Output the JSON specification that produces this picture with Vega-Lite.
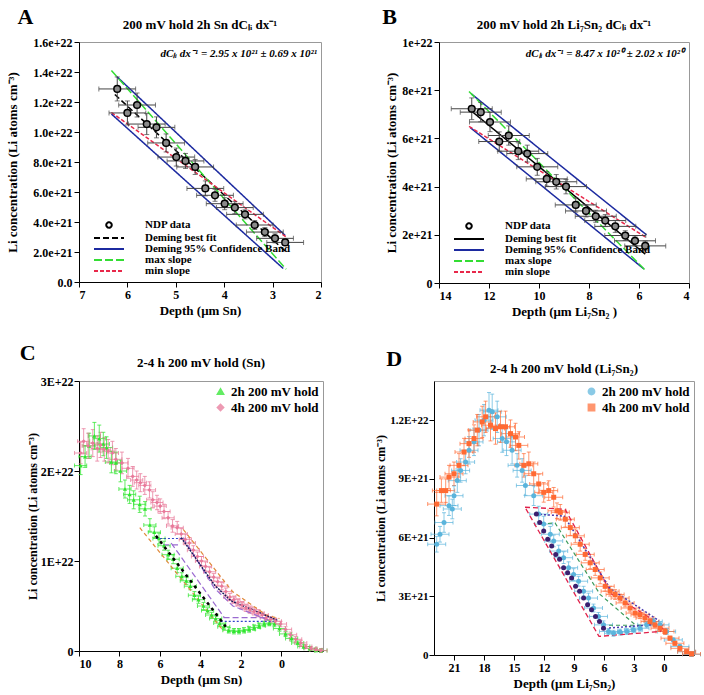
{
"$schema":"https://vega.github.io/schema/vega-lite/v6.json",
"datasets":{
"a_pts":[{"x":6.21,"y":1.287e22,"xe":0.38,"ye":8e20},{"x":6.0,"y":1.127e22,"xe":0.38,"ye":8e20},{"x":5.8,"y":1.18e22,"xe":0.38,"ye":8e20},{"x":5.6,"y":1.053e22,"xe":0.38,"ye":7e20},{"x":5.4,"y":1.031e22,"xe":0.38,"ye":7e20},{"x":5.2,"y":9.27e21,"xe":0.38,"ye":6e20},{"x":4.99,"y":8.33e21,"xe":0.38,"ye":6e20},{"x":4.8,"y":8.07e21,"xe":0.38,"ye":5e20},{"x":4.6,"y":7.67e21,"xe":0.38,"ye":5e20},{"x":4.39,"y":6.24e21,"xe":0.38,"ye":5e20},{"x":4.19,"y":5.78e21,"xe":0.38,"ye":4e20},{"x":3.99,"y":5.22e21,"xe":0.38,"ye":4e20},{"x":3.78,"y":4.96e21,"xe":0.38,"ye":4e20},{"x":3.57,"y":4.51e21,"xe":0.38,"ye":3e20},{"x":3.37,"y":3.8e21,"xe":0.38,"ye":3e20},{"x":3.16,"y":3.33e21,"xe":0.38,"ye":3e20},{"x":2.95,"y":2.91e21,"xe":0.38,"ye":3e20},{"x":2.74,"y":2.64e21,"xe":0.38,"ye":2e20}],
"a_lines":[{"s":"Deming best fit","g":"f","x":6.26,"y":1.25e22},{"s":"Deming best fit","g":"f","x":2.72,"y":2.0e21},{"s":"Deming 95% Confidence Band","g":"u","x":6.22,"y":1.37e22},{"s":"Deming 95% Confidence Band","g":"u","x":2.74,"y":3.1e21},{"s":"Deming 95% Confidence Band","g":"l","x":6.33,"y":1.12e22},{"s":"Deming 95% Confidence Band","g":"l","x":2.78,"y":9e20},{"s":"max slope","g":"mx","x":6.33,"y":1.41e22},{"s":"max slope","g":"mx","x":2.72,"y":8.5e20},{"s":"min slope","g":"mn","x":6.33,"y":1.13e22},{"s":"min slope","g":"mn","x":2.72,"y":3.0e21}],
"a_note":[{"x":2.08,"y":1.52e22,"t":"dCₗᵢ dx⁻¹ = 2.95 x 10²¹ ± 0.69 x 10²¹"}],
"b_pts":[{"x":12.69,"y":7.23e21,"xe":0.82,"ye":4.5e20},{"x":12.33,"y":7.09e21,"xe":0.82,"ye":4e20},{"x":11.96,"y":6.68e21,"xe":0.82,"ye":4e20},{"x":11.59,"y":5.87e21,"xe":0.82,"ye":4e20},{"x":11.21,"y":6.12e21,"xe":0.82,"ye":4e20},{"x":10.83,"y":5.47e21,"xe":0.82,"ye":3.5e20},{"x":10.47,"y":5.37e21,"xe":0.82,"ye":3.5e20},{"x":10.07,"y":4.82e21,"xe":0.82,"ye":3.5e20},{"x":9.69,"y":4.32e21,"xe":0.82,"ye":3e20},{"x":9.31,"y":4.2e21,"xe":0.82,"ye":3e20},{"x":8.92,"y":4.0e21,"xe":0.82,"ye":3e20},{"x":8.53,"y":3.24e21,"xe":0.82,"ye":3e20},{"x":8.12,"y":2.99e21,"xe":0.82,"ye":2.5e20},{"x":7.73,"y":2.77e21,"xe":0.82,"ye":2.5e20},{"x":7.35,"y":2.59e21,"xe":0.82,"ye":2.5e20},{"x":6.95,"y":2.35e21,"xe":0.82,"ye":2.5e20},{"x":6.55,"y":1.97e21,"xe":0.82,"ye":2e20},{"x":6.16,"y":1.75e21,"xe":0.82,"ye":2e20},{"x":5.75,"y":1.54e21,"xe":0.82,"ye":2e20}],
"b_lines":[{"s":"Deming best fit","g":"f","x":12.73,"y":7.16e21},{"s":"Deming best fit","g":"f","x":5.75,"y":1.2e21},{"s":"Deming 95% Confidence Band","g":"u","x":12.71,"y":7.85e21},{"s":"Deming 95% Confidence Band","g":"u","x":5.7,"y":2.0e21},{"s":"Deming 95% Confidence Band","g":"l","x":12.75,"y":6.45e21},{"s":"Deming 95% Confidence Band","g":"l","x":5.8,"y":5.8e20},{"s":"max slope","g":"mx","x":12.8,"y":7.95e21},{"s":"max slope","g":"mx","x":5.73,"y":5.1e20},{"s":"min slope","g":"mn","x":12.8,"y":6.5e21},{"s":"min slope","g":"mn","x":5.73,"y":1.9e21}],
"b_note":[{"x":4.2,"y":9.5e21,"t":"dCₗᵢ dx⁻¹ = 8.47 x 10²⁰ ± 2.02 x 10²⁰"}],
"c_pts":[
{"s":"2h 200 mV hold","x":9.92,"y":2.06e22,"xe":0.3,"ye":1.0e21},{"s":"2h 200 mV hold","x":9.7,"y":2.16e22,"xe":0.3,"ye":1.2e21},{"s":"2h 200 mV hold","x":9.5,"y":2.28e22,"xe":0.3,"ye":1.4e21},{"s":"2h 200 mV hold","x":9.24,"y":2.39e22,"xe":0.3,"ye":1.5e21},{"s":"2h 200 mV hold","x":9.0,"y":2.36e22,"xe":0.3,"ye":1.5e21},{"s":"2h 200 mV hold","x":8.8,"y":2.3e22,"xe":0.3,"ye":1.3e21},{"s":"2h 200 mV hold","x":8.64,"y":2.26e22,"xe":0.3,"ye":1.2e21},{"s":"2h 200 mV hold","x":8.4,"y":2.1e22,"xe":0.3,"ye":1.2e21},{"s":"2h 200 mV hold","x":8.18,"y":2.09e22,"xe":0.3,"ye":1.2e21},{"s":"2h 200 mV hold","x":7.95,"y":2.0e22,"xe":0.3,"ye":1.2e21},{"s":"2h 200 mV hold","x":7.73,"y":1.8e22,"xe":0.3,"ye":1.0e21},{"s":"2h 200 mV hold","x":7.5,"y":1.74e22,"xe":0.3,"ye":1.0e21},{"s":"2h 200 mV hold","x":7.3,"y":1.68e22,"xe":0.3,"ye":1.0e21},{"s":"2h 200 mV hold","x":7.0,"y":1.63e22,"xe":0.3,"ye":9e20},{"s":"2h 200 mV hold","x":6.74,"y":1.58e22,"xe":0.3,"ye":8e20},{"s":"2h 200 mV hold","x":6.5,"y":1.4e22,"xe":0.3,"ye":7e20},{"s":"2h 200 mV hold","x":6.28,"y":1.32e22,"xe":0.3,"ye":6e20},{"s":"2h 200 mV hold","x":6.05,"y":1.25e22,"xe":0.3,"ye":6e20},{"s":"2h 200 mV hold","x":5.8,"y":1.17e22,"xe":0.3,"ye":5e20},{"s":"2h 200 mV hold","x":5.6,"y":1.07e22,"xe":0.3,"ye":5e20},{"s":"2h 200 mV hold","x":5.35,"y":1.02e22,"xe":0.3,"ye":5e20},{"s":"2h 200 mV hold","x":5.15,"y":9.2e21,"xe":0.3,"ye":5e20},{"s":"2h 200 mV hold","x":4.92,"y":8.3e21,"xe":0.3,"ye":4e20},{"s":"2h 200 mV hold","x":4.7,"y":7.8e21,"xe":0.3,"ye":4e20},{"s":"2h 200 mV hold","x":4.5,"y":7.2e21,"xe":0.3,"ye":4e20},{"s":"2h 200 mV hold","x":4.3,"y":6.2e21,"xe":0.3,"ye":4e20},{"s":"2h 200 mV hold","x":4.1,"y":5.7e21,"xe":0.3,"ye":4e20},{"s":"2h 200 mV hold","x":3.85,"y":5.0e21,"xe":0.3,"ye":4e20},{"s":"2h 200 mV hold","x":3.65,"y":4.5e21,"xe":0.3,"ye":3e20},{"s":"2h 200 mV hold","x":3.45,"y":4.0e21,"xe":0.3,"ye":3e20},{"s":"2h 200 mV hold","x":3.25,"y":3.6e21,"xe":0.3,"ye":3e20},{"s":"2h 200 mV hold","x":3.05,"y":3.1e21,"xe":0.3,"ye":3e20},{"s":"2h 200 mV hold","x":2.85,"y":2.7e21,"xe":0.3,"ye":3e20},{"s":"2h 200 mV hold","x":2.6,"y":2.3e21,"xe":0.3,"ye":3e20},{"s":"2h 200 mV hold","x":2.35,"y":2.2e21,"xe":0.3,"ye":3e20},{"s":"2h 200 mV hold","x":2.1,"y":2.2e21,"xe":0.3,"ye":3e20},{"s":"2h 200 mV hold","x":1.85,"y":2.3e21,"xe":0.3,"ye":3e20},{"s":"2h 200 mV hold","x":1.6,"y":2.4e21,"xe":0.3,"ye":3e20},{"s":"2h 200 mV hold","x":1.35,"y":2.6e21,"xe":0.3,"ye":3e20},{"s":"2h 200 mV hold","x":1.1,"y":2.8e21,"xe":0.3,"ye":3e20},{"s":"2h 200 mV hold","x":0.85,"y":3.0e21,"xe":0.3,"ye":3e20},{"s":"2h 200 mV hold","x":0.6,"y":3.1e21,"xe":0.3,"ye":3e20},{"s":"2h 200 mV hold","x":0.35,"y":3.0e21,"xe":0.3,"ye":3e20},{"s":"2h 200 mV hold","x":0.1,"y":2.5e21,"xe":0.3,"ye":3e20},{"s":"2h 200 mV hold","x":-0.2,"y":1.9e21,"xe":0.3,"ye":3e20},{"s":"2h 200 mV hold","x":-0.5,"y":1.4e21,"xe":0.3,"ye":3e20},{"s":"2h 200 mV hold","x":-0.8,"y":9e20,"xe":0.3,"ye":2e20},{"s":"2h 200 mV hold","x":-1.1,"y":5e20,"xe":0.3,"ye":2e20},{"s":"2h 200 mV hold","x":-1.4,"y":3e20,"xe":0.3,"ye":2e20},{"s":"2h 200 mV hold","x":-1.7,"y":1e20,"xe":0.3,"ye":2e20},{"s":"2h 200 mV hold","x":-1.95,"y":5e19,"xe":0.3,"ye":2e20},
{"s":"4h 200 mV hold","x":9.92,"y":2.2e22,"xe":0.3,"ye":1.2e21},{"s":"4h 200 mV hold","x":9.77,"y":2.33e22,"xe":0.3,"ye":1.4e21},{"s":"4h 200 mV hold","x":9.55,"y":2.28e22,"xe":0.3,"ye":1.4e21},{"s":"4h 200 mV hold","x":9.32,"y":2.31e22,"xe":0.3,"ye":1.5e21},{"s":"4h 200 mV hold","x":9.1,"y":2.25e22,"xe":0.3,"ye":1.4e21},{"s":"4h 200 mV hold","x":8.94,"y":2.29e22,"xe":0.3,"ye":1.4e21},{"s":"4h 200 mV hold","x":8.75,"y":2.24e22,"xe":0.3,"ye":1.3e21},{"s":"4h 200 mV hold","x":8.56,"y":2.22e22,"xe":0.3,"ye":1.3e21},{"s":"4h 200 mV hold","x":8.35,"y":2.2e22,"xe":0.3,"ye":1.3e21},{"s":"4h 200 mV hold","x":8.18,"y":2.13e22,"xe":0.3,"ye":1.2e21},{"s":"4h 200 mV hold","x":7.88,"y":2.09e22,"xe":0.3,"ye":1.2e21},{"s":"4h 200 mV hold","x":7.58,"y":2.03e22,"xe":0.3,"ye":1.1e21},{"s":"4h 200 mV hold","x":7.35,"y":1.94e22,"xe":0.3,"ye":1.1e21},{"s":"4h 200 mV hold","x":7.15,"y":1.9e22,"xe":0.3,"ye":1.0e21},{"s":"4h 200 mV hold","x":6.97,"y":1.87e22,"xe":0.3,"ye":1.0e21},{"s":"4h 200 mV hold","x":6.75,"y":1.84e22,"xe":0.3,"ye":1.0e21},{"s":"4h 200 mV hold","x":6.52,"y":1.79e22,"xe":0.3,"ye":9e20},{"s":"4h 200 mV hold","x":6.36,"y":1.68e22,"xe":0.3,"ye":9e20},{"s":"4h 200 mV hold","x":6.15,"y":1.65e22,"xe":0.3,"ye":8e20},{"s":"4h 200 mV hold","x":5.99,"y":1.61e22,"xe":0.3,"ye":8e20},{"s":"4h 200 mV hold","x":5.8,"y":1.55e22,"xe":0.3,"ye":8e20},{"s":"4h 200 mV hold","x":5.6,"y":1.48e22,"xe":0.3,"ye":7e20},{"s":"4h 200 mV hold","x":5.38,"y":1.39e22,"xe":0.3,"ye":7e20},{"s":"4h 200 mV hold","x":5.15,"y":1.37e22,"xe":0.3,"ye":7e20},{"s":"4h 200 mV hold","x":4.95,"y":1.3e22,"xe":0.3,"ye":6e20},{"s":"4h 200 mV hold","x":4.75,"y":1.24e22,"xe":0.3,"ye":6e20},{"s":"4h 200 mV hold","x":4.55,"y":1.2e22,"xe":0.3,"ye":6e20},{"s":"4h 200 mV hold","x":4.35,"y":1.12e22,"xe":0.3,"ye":5e20},{"s":"4h 200 mV hold","x":4.15,"y":1.05e22,"xe":0.3,"ye":5e20},{"s":"4h 200 mV hold","x":3.95,"y":1.0e22,"xe":0.3,"ye":5e20},{"s":"4h 200 mV hold","x":3.75,"y":9.4e21,"xe":0.3,"ye":5e20},{"s":"4h 200 mV hold","x":3.55,"y":8.8e21,"xe":0.3,"ye":5e20},{"s":"4h 200 mV hold","x":3.35,"y":8.2e21,"xe":0.3,"ye":4e20},{"s":"4h 200 mV hold","x":3.15,"y":7.7e21,"xe":0.3,"ye":4e20},{"s":"4h 200 mV hold","x":2.95,"y":7.2e21,"xe":0.3,"ye":4e20},{"s":"4h 200 mV hold","x":2.75,"y":6.6e21,"xe":0.3,"ye":4e20},{"s":"4h 200 mV hold","x":2.55,"y":6.0e21,"xe":0.3,"ye":4e20},{"s":"4h 200 mV hold","x":2.35,"y":5.7e21,"xe":0.3,"ye":4e20},{"s":"4h 200 mV hold","x":2.15,"y":5.4e21,"xe":0.3,"ye":4e20},{"s":"4h 200 mV hold","x":1.95,"y":5.1e21,"xe":0.3,"ye":4e20},{"s":"4h 200 mV hold","x":1.75,"y":4.8e21,"xe":0.3,"ye":4e20},{"s":"4h 200 mV hold","x":1.55,"y":4.6e21,"xe":0.3,"ye":4e20},{"s":"4h 200 mV hold","x":1.35,"y":4.4e21,"xe":0.3,"ye":4e20},{"s":"4h 200 mV hold","x":1.15,"y":4.2e21,"xe":0.3,"ye":4e20},{"s":"4h 200 mV hold","x":0.95,"y":4.0e21,"xe":0.3,"ye":3e20},{"s":"4h 200 mV hold","x":0.75,"y":3.7e21,"xe":0.3,"ye":3e20},{"s":"4h 200 mV hold","x":0.55,"y":3.5e21,"xe":0.3,"ye":3e20},{"s":"4h 200 mV hold","x":0.3,"y":3.3e21,"xe":0.3,"ye":3e20},{"s":"4h 200 mV hold","x":0.05,"y":3.0e21,"xe":0.3,"ye":3e20},{"s":"4h 200 mV hold","x":-0.2,"y":2.4e21,"xe":0.3,"ye":3e20},{"s":"4h 200 mV hold","x":-0.45,"y":1.8e21,"xe":0.3,"ye":3e20},{"s":"4h 200 mV hold","x":-0.7,"y":1.3e21,"xe":0.3,"ye":3e20},{"s":"4h 200 mV hold","x":-0.95,"y":9e20,"xe":0.3,"ye":3e20},{"s":"4h 200 mV hold","x":-1.2,"y":5e20,"xe":0.3,"ye":2e20},{"s":"4h 200 mV hold","x":-1.45,"y":3e20,"xe":0.3,"ye":2e20},{"s":"4h 200 mV hold","x":-1.7,"y":1.5e20,"xe":0.3,"ye":2e20},{"s":"4h 200 mV hold","x":-1.95,"y":5e19,"xe":0.3,"ye":2e20}],
"c_lines":[
{"st":"orange","g":"o1","i":0,"x":7.0,"y":1.37e22},{"st":"orange","g":"o1","i":1,"x":2.85,"y":2.2e21},
{"st":"orange","g":"o2","i":0,"x":4.85,"y":1.35e22},{"st":"orange","g":"o2","i":1,"x":2.42,"y":6.6e21},{"st":"orange","g":"o2","i":2,"x":0.76,"y":4.0e21},{"st":"orange","g":"o2","i":3,"x":0.1,"y":3.6e21},
{"st":"purple","g":"p1","i":0,"x":5.45,"y":1.2e22},{"st":"purple","g":"p1","i":1,"x":2.82,"y":3.7e21},
{"st":"purple","g":"p2","i":0,"x":4.86,"y":1.26e22},{"st":"purple","g":"p2","i":1,"x":3.32,"y":7.0e21},{"st":"purple","g":"p2","i":2,"x":2.4,"y":5.0e21},{"st":"purple","g":"p2","i":3,"x":0.6,"y":3.4e21},
{"st":"purple","g":"p3","i":0,"x":2.86,"y":3.7e21},{"st":"purple","g":"p3","i":1,"x":0.68,"y":3.7e21},
{"st":"purple","g":"p4","i":0,"x":5.85,"y":1.18e22},{"st":"purple","g":"p4","i":1,"x":5.0,"y":1.18e22},
{"st":"blue","g":"h1","i":0,"x":6.2,"y":1.25e22},{"st":"blue","g":"h1","i":1,"x":4.95,"y":1.25e22},
{"st":"blue","g":"h2","i":0,"x":3.0,"y":3.3e21},{"st":"blue","g":"h2","i":1,"x":0.3,"y":3.3e21},
{"st":"navy","g":"n1","i":0,"x":4.95,"y":1.26e22},{"st":"navy","g":"n1","i":1,"x":3.3,"y":7.3e21},{"st":"navy","g":"n1","i":2,"x":2.5,"y":5.6e21},{"st":"navy","g":"n1","i":3,"x":0.2,"y":3.4e21},
{"st":"blk","g":"b1","i":0,"x":6.2,"y":1.28e22},{"st":"blk","g":"b1","i":1,"x":2.75,"y":2.7e21}],
"d_pts":[
{"s":"2h 200 mV hold","x":22.73,"y":5.66e21,"xe":0.9,"ye":4e20},{"s":"2h 200 mV hold","x":22.4,"y":6.17e21,"xe":0.9,"ye":4e20},{"s":"2h 200 mV hold","x":22.0,"y":6.77e21,"xe":0.9,"ye":5e20},{"s":"2h 200 mV hold","x":21.5,"y":7.63e21,"xe":0.9,"ye":5e20},{"s":"2h 200 mV hold","x":21.17,"y":7.46e21,"xe":0.9,"ye":5e20},{"s":"2h 200 mV hold","x":21.0,"y":8.14e21,"xe":0.9,"ye":5e20},{"s":"2h 200 mV hold","x":20.67,"y":8.91e21,"xe":0.9,"ye":6e20},{"s":"2h 200 mV hold","x":20.34,"y":9.43e21,"xe":0.9,"ye":6e20},{"s":"2h 200 mV hold","x":19.84,"y":9.86e21,"xe":0.9,"ye":6e20},{"s":"2h 200 mV hold","x":19.5,"y":1.046e22,"xe":0.9,"ye":7e20},{"s":"2h 200 mV hold","x":19.0,"y":1.089e22,"xe":0.9,"ye":7e20},{"s":"2h 200 mV hold","x":18.5,"y":1.149e22,"xe":0.9,"ye":8e20},{"s":"2h 200 mV hold","x":18.0,"y":1.2e22,"xe":0.9,"ye":8e20},{"s":"2h 200 mV hold","x":17.5,"y":1.251e22,"xe":0.9,"ye":9e20},{"s":"2h 200 mV hold","x":17.18,"y":1.243e22,"xe":0.9,"ye":9e20},{"s":"2h 200 mV hold","x":16.68,"y":1.217e22,"xe":0.9,"ye":8e20},{"s":"2h 200 mV hold","x":16.18,"y":1.106e22,"xe":0.9,"ye":7e20},{"s":"2h 200 mV hold","x":15.75,"y":1.089e22,"xe":0.9,"ye":7e20},{"s":"2h 200 mV hold","x":15.19,"y":1.046e22,"xe":0.9,"ye":7e20},{"s":"2h 200 mV hold","x":14.69,"y":9.69e21,"xe":0.9,"ye":6e20},{"s":"2h 200 mV hold","x":14.19,"y":9.43e21,"xe":0.9,"ye":6e20},{"s":"2h 200 mV hold","x":13.86,"y":8.66e21,"xe":0.9,"ye":5e20},{"s":"2h 200 mV hold","x":13.03,"y":8.14e21,"xe":0.9,"ye":5e20},{"s":"2h 200 mV hold","x":12.53,"y":7.2e21,"xe":0.9,"ye":4e20},{"s":"2h 200 mV hold","x":12.03,"y":6.69e21,"xe":0.9,"ye":4e20},{"s":"2h 200 mV hold","x":11.37,"y":6.17e21,"xe":0.9,"ye":4e20},{"s":"2h 200 mV hold","x":11.03,"y":5.83e21,"xe":0.9,"ye":3e20},{"s":"2h 200 mV hold","x":10.53,"y":5.31e21,"xe":0.9,"ye":3e20},{"s":"2h 200 mV hold","x":10.04,"y":4.97e21,"xe":0.9,"ye":3e20},{"s":"2h 200 mV hold","x":9.54,"y":4.46e21,"xe":0.9,"ye":3e20},{"s":"2h 200 mV hold","x":9.04,"y":4.11e21,"xe":0.9,"ye":3e20},{"s":"2h 200 mV hold","x":8.54,"y":3.77e21,"xe":0.9,"ye":2.5e20},{"s":"2h 200 mV hold","x":8.04,"y":3.26e21,"xe":0.9,"ye":2.5e20},{"s":"2h 200 mV hold","x":7.55,"y":2.91e21,"xe":0.9,"ye":2.5e20},{"s":"2h 200 mV hold","x":7.05,"y":2.4e21,"xe":0.9,"ye":2e20},{"s":"2h 200 mV hold","x":6.55,"y":1.97e21,"xe":0.9,"ye":2e20},{"s":"2h 200 mV hold","x":6.05,"y":1.54e21,"xe":0.9,"ye":2e20},{"s":"2h 200 mV hold","x":5.55,"y":1.2e21,"xe":0.9,"ye":1.5e20},{"s":"2h 200 mV hold","x":5.05,"y":1.11e21,"xe":0.9,"ye":1.5e20},{"s":"2h 200 mV hold","x":4.39,"y":1.17e21,"xe":0.9,"ye":1.5e20},{"s":"2h 200 mV hold","x":3.72,"y":1.2e21,"xe":0.9,"ye":1.5e20},{"s":"2h 200 mV hold","x":3.06,"y":1.29e21,"xe":0.9,"ye":1.5e20},{"s":"2h 200 mV hold","x":2.4,"y":1.37e21,"xe":0.9,"ye":1.5e20},{"s":"2h 200 mV hold","x":1.73,"y":1.54e21,"xe":0.9,"ye":1.5e20},{"s":"2h 200 mV hold","x":1.07,"y":1.71e21,"xe":0.9,"ye":1.5e20},{"s":"2h 200 mV hold","x":0.4,"y":1.54e21,"xe":0.9,"ye":1.5e20},{"s":"2h 200 mV hold","x":-0.26,"y":1.2e21,"xe":0.9,"ye":1.5e20},{"s":"2h 200 mV hold","x":-0.93,"y":7.7e20,"xe":0.9,"ye":1e20},{"s":"2h 200 mV hold","x":-1.59,"y":4.3e20,"xe":0.9,"ye":1e20},{"s":"2h 200 mV hold","x":-2.26,"y":1.7e20,"xe":0.9,"ye":1e20},{"s":"2h 200 mV hold","x":-2.75,"y":3e19,"xe":0.9,"ye":1e20},
{"s":"4h 200 mV hold","x":22.73,"y":7.71e21,"xe":0.9,"ye":6e20},{"s":"4h 200 mV hold","x":22.26,"y":8.4e21,"xe":0.9,"ye":6e20},{"s":"4h 200 mV hold","x":21.83,"y":8.4e21,"xe":0.9,"ye":6e20},{"s":"4h 200 mV hold","x":21.5,"y":9.09e21,"xe":0.9,"ye":6e20},{"s":"4h 200 mV hold","x":21.0,"y":9.26e21,"xe":0.9,"ye":6e20},{"s":"4h 200 mV hold","x":20.5,"y":9.69e21,"xe":0.9,"ye":6e20},{"s":"4h 200 mV hold","x":20.0,"y":1.037e22,"xe":0.9,"ye":7e20},{"s":"4h 200 mV hold","x":19.5,"y":1.08e22,"xe":0.9,"ye":7e20},{"s":"4h 200 mV hold","x":19.0,"y":1.106e22,"xe":0.9,"ye":7e20},{"s":"4h 200 mV hold","x":18.67,"y":1.149e22,"xe":0.9,"ye":8e20},{"s":"4h 200 mV hold","x":18.18,"y":1.191e22,"xe":0.9,"ye":8e20},{"s":"4h 200 mV hold","x":17.84,"y":1.217e22,"xe":0.9,"ye":8e20},{"s":"4h 200 mV hold","x":17.35,"y":1.174e22,"xe":0.9,"ye":8e20},{"s":"4h 200 mV hold","x":16.85,"y":1.157e22,"xe":0.9,"ye":8e20},{"s":"4h 200 mV hold","x":16.35,"y":1.166e22,"xe":0.9,"ye":8e20},{"s":"4h 200 mV hold","x":15.85,"y":1.166e22,"xe":0.9,"ye":8e20},{"s":"4h 200 mV hold","x":15.35,"y":1.131e22,"xe":0.9,"ye":7e20},{"s":"4h 200 mV hold","x":14.85,"y":1.114e22,"xe":0.9,"ye":7e20},{"s":"4h 200 mV hold","x":14.52,"y":1.071e22,"xe":0.9,"ye":7e20},{"s":"4h 200 mV hold","x":14.02,"y":9.69e21,"xe":0.9,"ye":6e20},{"s":"4h 200 mV hold","x":13.52,"y":9.77e21,"xe":0.9,"ye":6e20},{"s":"4h 200 mV hold","x":13.03,"y":9.26e21,"xe":0.9,"ye":6e20},{"s":"4h 200 mV hold","x":12.53,"y":8.74e21,"xe":0.9,"ye":5e20},{"s":"4h 200 mV hold","x":12.03,"y":8.31e21,"xe":0.9,"ye":5e20},{"s":"4h 200 mV hold","x":11.53,"y":8.4e21,"xe":0.9,"ye":5e20},{"s":"4h 200 mV hold","x":11.03,"y":8.06e21,"xe":0.9,"ye":5e20},{"s":"4h 200 mV hold","x":10.7,"y":7.37e21,"xe":0.9,"ye":4e20},{"s":"4h 200 mV hold","x":10.37,"y":7.29e21,"xe":0.9,"ye":4e20},{"s":"4h 200 mV hold","x":9.87,"y":6.94e21,"xe":0.9,"ye":4e20},{"s":"4h 200 mV hold","x":9.37,"y":6.51e21,"xe":0.9,"ye":4e20},{"s":"4h 200 mV hold","x":8.87,"y":6.09e21,"xe":0.9,"ye":3.5e20},{"s":"4h 200 mV hold","x":8.38,"y":5.66e21,"xe":0.9,"ye":3.5e20},{"s":"4h 200 mV hold","x":7.88,"y":5.14e21,"xe":0.9,"ye":3e20},{"s":"4h 200 mV hold","x":7.38,"y":4.71e21,"xe":0.9,"ye":3e20},{"s":"4h 200 mV hold","x":6.88,"y":4.37e21,"xe":0.9,"ye":3e20},{"s":"4h 200 mV hold","x":6.38,"y":3.94e21,"xe":0.9,"ye":3e20},{"s":"4h 200 mV hold","x":5.88,"y":3.51e21,"xe":0.9,"ye":2.5e20},{"s":"4h 200 mV hold","x":5.39,"y":3.26e21,"xe":0.9,"ye":2.5e20},{"s":"4h 200 mV hold","x":4.89,"y":3.09e21,"xe":0.9,"ye":2.5e20},{"s":"4h 200 mV hold","x":4.39,"y":2.91e21,"xe":0.9,"ye":2e20},{"s":"4h 200 mV hold","x":3.89,"y":2.66e21,"xe":0.9,"ye":2e20},{"s":"4h 200 mV hold","x":3.39,"y":2.4e21,"xe":0.9,"ye":2e20},{"s":"4h 200 mV hold","x":2.89,"y":2.14e21,"xe":0.9,"ye":2e20},{"s":"4h 200 mV hold","x":2.4,"y":2.06e21,"xe":0.9,"ye":2e20},{"s":"4h 200 mV hold","x":1.9,"y":1.89e21,"xe":0.9,"ye":2e20},{"s":"4h 200 mV hold","x":1.4,"y":1.71e21,"xe":0.9,"ye":1.5e20},{"s":"4h 200 mV hold","x":0.9,"y":1.54e21,"xe":0.9,"ye":1.5e20},{"s":"4h 200 mV hold","x":0.4,"y":1.37e21,"xe":0.9,"ye":1.5e20},{"s":"4h 200 mV hold","x":-0.1,"y":1.2e21,"xe":0.9,"ye":1.5e20},{"s":"4h 200 mV hold","x":-0.6,"y":8.6e20,"xe":0.9,"ye":1e20},{"s":"4h 200 mV hold","x":-1.09,"y":6e20,"xe":0.9,"ye":1e20},{"s":"4h 200 mV hold","x":-1.59,"y":3.4e20,"xe":0.9,"ye":1e20},{"s":"4h 200 mV hold","x":-2.26,"y":1.7e20,"xe":0.9,"ye":1e20},{"s":"4h 200 mV hold","x":-2.75,"y":5e19,"xe":0.9,"ye":1e20}],
"d_fit":[{"x":12.76,"y":7.2e21},{"x":12.43,"y":6.77e21},{"x":12.03,"y":6.34e21},{"x":11.63,"y":5.91e21},{"x":11.23,"y":5.57e21},{"x":10.83,"y":5.14e21},{"x":10.44,"y":4.89e21},{"x":10.04,"y":4.46e21},{"x":9.64,"y":4.2e21},{"x":9.24,"y":3.94e21},{"x":8.84,"y":3.51e21},{"x":8.44,"y":3.26e21},{"x":8.04,"y":2.91e21},{"x":7.64,"y":2.57e21},{"x":7.25,"y":2.31e21},{"x":6.85,"y":1.97e21},{"x":6.45,"y":1.71e21},{"x":6.05,"y":1.37e21}],
"d_lines":[
{"st":"red","g":"r","i":0,"x":13.9,"y":7.55e21},{"st":"red","g":"r","i":1,"x":9.9,"y":7.45e21},{"st":"red","g":"r","i":2,"x":5.2,"y":3.1e21},{"st":"red","g":"r","i":3,"x":0.0,"y":1.45e21},{"st":"red","g":"r","i":4,"x":0.4,"y":1.2e21},{"st":"red","g":"r","i":5,"x":6.5,"y":9.5e20},{"st":"red","g":"r","i":6,"x":13.9,"y":7.55e21},
{"st":"navy","g":"n1","i":0,"x":12.8,"y":7.2e21},{"st":"navy","g":"n1","i":1,"x":10.0,"y":7.1e21},{"st":"navy","g":"n1","i":2,"x":5.4,"y":3.4e21},{"st":"navy","g":"n1","i":3,"x":0.5,"y":1.75e21},
{"st":"navy","g":"n2","i":0,"x":5.5,"y":1.38e21},{"st":"navy","g":"n2","i":1,"x":0.9,"y":1.55e21},
{"st":"green","g":"g1","i":0,"x":11.6,"y":6.72e21},{"st":"green","g":"g1","i":1,"x":10.9,"y":6.75e21},{"st":"green","g":"g1","i":2,"x":6.4,"y":3.1e21},{"st":"green","g":"g1","i":3,"x":2.9,"y":1.55e21},
{"st":"green","g":"g2","i":0,"x":5.5,"y":1.52e21},{"st":"green","g":"g2","i":1,"x":2.2,"y":1.52e21}]
},
"resolve":{"scale":{"color":"independent","strokeDash":"independent","shape":"independent"},"legend":{"color":"independent","strokeDash":"independent","shape":"independent"}},
"columns":1,
"align":"none",
"spacing":22,
"concat":[
{"resolve":{"scale":{"color":"independent","strokeDash":"independent","shape":"independent"},"legend":{"color":"independent","strokeDash":"independent","shape":"independent"}},
 "hconcat":[
 {"title":{"text":"A","anchor":"start","fontSize":22,"offset":-10,"dx":12},
  "resolve":{"scale":{"color":"independent","strokeDash":"independent","shape":"independent"},"legend":{"color":"independent","strokeDash":"independent","shape":"independent"}},
  "vconcat":[{
   "width":242,"height":240,
   "title":{"text":"200 mV hold 2h Sn dCₗᵢ dx⁻¹","offset":4},
   "encoding":{
     "x":{"field":"x","type":"quantitative","scale":{"domain":[2,7],"reverse":true,"nice":false},"axis":{"values":[2,3,4,5,6,7]},"title":"Depth (μm Sn)"},
     "y":{"field":"y","type":"quantitative","scale":{"domain":[0,1.6e22],"nice":false},"axis":{"values":[0,2e21,4e21,6e21,8e21,1e22,1.2e22,1.4e22,1.6e22],"labelExpr":"datum.value == 0 ? '0.0' : format(datum.value, '.1e')","titlePadding":4,"minExtent":56},"title":"Li concentration (Li atoms cm⁻³)"}
   },
   "layer":[
    {"data":{"name":"a_lines"},"mark":{"type":"line","strokeWidth":1.5},
     "encoding":{"detail":{"field":"g"},
      "color":{"field":"s","type":"nominal","scale":{"domain":["NDP data","Deming best fit","Deming 95% Confidence Band","max slope","min slope"],"range":["black","black","#1c2aa0","#33dd33","#e8284a"]},
        "legend":{"title":null,"orient":"bottom-left","offset":6,"symbolType":"M-3,0H3","symbolSize":100,"symbolOffset":18,"labelOffset":30,"symbolStrokeWidth":2,"labelFontSize":11,"rowPadding":-2,"labelColor":"black",
          "encode":{"symbols":{"update":{"shape":{"signal":"datum.value === 'NDP data' ? 'circle' : 'M-3,0H3'"},"size":{"signal":"datum.value === 'NDP data' ? 30 : 100"}}}}}},
      "strokeDash":{"field":"s","type":"nominal","scale":{"domain":["NDP data","Deming best fit","Deming 95% Confidence Band","max slope","min slope"],"range":[[1,0],[6,3],[1,0],[8,3],[4,2]]},
        "legend":{"title":null,"orient":"bottom-left","offset":6,"symbolType":"M-3,0H3","symbolSize":100,"symbolOffset":18,"labelOffset":30,"symbolStrokeWidth":2,"labelFontSize":11,"rowPadding":-2,"labelColor":"black",
          "encode":{"symbols":{"update":{"shape":{"signal":"datum.value === 'NDP data' ? 'circle' : 'M-3,0H3'"},"size":{"signal":"datum.value === 'NDP data' ? 30 : 100"}}}}}}}},
    {"data":{"name":"a_pts"},"mark":{"type":"errorbar","ticks":true,"size":5,"color":"#444","thickness":1},"encoding":{"xError":{"field":"xe"}}},
    {"data":{"name":"a_pts"},"mark":{"type":"errorbar","ticks":true,"size":5,"color":"#444","thickness":1},"encoding":{"yError":{"field":"ye"}}},
    {"data":{"name":"a_pts"},"mark":{"type":"point","shape":"circle","filled":true,"fill":"#8a8a8a","stroke":"black","strokeWidth":1.5,"size":45,"opacity":1}},
    {"data":{"name":"a_note"},"mark":{"type":"text","align":"right","baseline":"middle","fontStyle":"italic","fontWeight":"bold","fontSize":11,"font":"Liberation Serif","color":"black"},"encoding":{"text":{"field":"t"}}}
   ]}]},
 {"title":{"text":"B","anchor":"start","fontSize":22,"offset":-10,"dx":-3},
  "resolve":{"scale":{"color":"independent","strokeDash":"independent","shape":"independent"},"legend":{"color":"independent","strokeDash":"independent","shape":"independent"}},
  "vconcat":[{
   "width":250,"height":241,
   "title":{"text":"200 mV hold 2h Li₇Sn₂ dCₗᵢ dx⁻¹","offset":4},
   "encoding":{
     "x":{"field":"x","type":"quantitative","scale":{"domain":[4,14],"reverse":true,"nice":false},"axis":{"values":[4,6,8,10,12,14]},"title":"Depth (μm Li₇Sn₂ )"},
     "y":{"field":"y","type":"quantitative","scale":{"domain":[0,1e22],"nice":false},"axis":{"values":[0,2e21,4e21,6e21,8e21,1e22],"labelExpr":"datum.value == 0 ? '0' : format(datum.value, '.0e')","titlePadding":3},"title":"Li concentration (Li atoms cm⁻³)"}
   },
   "layer":[
    {"data":{"name":"b_lines"},"mark":{"type":"line","strokeWidth":1.5},
     "encoding":{"detail":{"field":"g"},
      "color":{"field":"s","type":"nominal","scale":{"domain":["NDP data","Deming best fit","Deming 95% Confidence Band","max slope","min slope"],"range":["black","black","#1c2aa0","#33dd33","#e8284a"]},
        "legend":{"title":null,"orient":"bottom-left","offset":6,"symbolType":"M-3,0H3","symbolSize":100,"symbolOffset":18,"labelOffset":30,"symbolStrokeWidth":2,"labelFontSize":11,"rowPadding":-2,"labelColor":"black",
          "encode":{"symbols":{"update":{"shape":{"signal":"datum.value === 'NDP data' ? 'circle' : 'M-3,0H3'"},"size":{"signal":"datum.value === 'NDP data' ? 30 : 100"}}}}}},
      "strokeDash":{"field":"s","type":"nominal","scale":{"domain":["NDP data","Deming best fit","Deming 95% Confidence Band","max slope","min slope"],"range":[[1,0],[1,0],[1,0],[8,3],[4,2]]},
        "legend":{"title":null,"orient":"bottom-left","offset":6,"symbolType":"M-3,0H3","symbolSize":100,"symbolOffset":18,"labelOffset":30,"symbolStrokeWidth":2,"labelFontSize":11,"rowPadding":-2,"labelColor":"black",
          "encode":{"symbols":{"update":{"shape":{"signal":"datum.value === 'NDP data' ? 'circle' : 'M-3,0H3'"},"size":{"signal":"datum.value === 'NDP data' ? 30 : 100"}}}}}}}},
    {"data":{"name":"b_pts"},"mark":{"type":"errorbar","ticks":true,"size":5,"color":"#444","thickness":1},"encoding":{"xError":{"field":"xe"}}},
    {"data":{"name":"b_pts"},"mark":{"type":"errorbar","ticks":true,"size":5,"color":"#444","thickness":1},"encoding":{"yError":{"field":"ye"}}},
    {"data":{"name":"b_pts"},"mark":{"type":"point","shape":"circle","filled":true,"fill":"#8a8a8a","stroke":"black","strokeWidth":1.5,"size":45,"opacity":1}},
    {"data":{"name":"b_note"},"mark":{"type":"text","align":"right","baseline":"middle","fontStyle":"italic","fontWeight":"bold","fontSize":11,"font":"Liberation Serif","color":"black"},"encoding":{"text":{"field":"t"}}}
   ]}]}
],"spacing":60},
{"resolve":{"scale":{"color":"independent","strokeDash":"independent","shape":"independent"},"legend":{"color":"independent","strokeDash":"independent","shape":"independent"}},
 "hconcat":[
 {"title":{"text":"C","anchor":"start","fontSize":22,"offset":-8,"dx":-6},
  "resolve":{"scale":{"color":"independent","strokeDash":"independent","shape":"independent"},"legend":{"color":"independent","strokeDash":"independent","shape":"independent"}},
  "vconcat":[{
   "width":244,"height":270,
   "title":{"text":"2-4 h 200 mV hold (Sn)","offset":5},
   "encoding":{
     "x":{"field":"x","type":"quantitative","scale":{"domain":[-2.05,10],"reverse":true,"nice":false},"axis":{"values":[0,2,4,6,8,10]},"title":"Depth (μm Sn)"},
     "y":{"field":"y","type":"quantitative","scale":{"domain":[0,3e22],"nice":false},"axis":{"values":[0,1e22,2e22,3e22],"labelExpr":"datum.value == 0 ? '0' : upper(format(datum.value, '.0e'))","titlePadding":1,"labelPadding":1,"titleFontSize":12},"title":"Li concentration (Li atoms cm⁻³)"}
   },
   "layer":[
    {"data":{"name":"c_pts"},"mark":{"type":"errorbar","ticks":true,"size":4,"thickness":1,"opacity":0.75},"encoding":{"xError":{"field":"xe"},"color":{"field":"s","type":"nominal","scale":{"domain":["2h 200 mV hold","4h 200 mV hold"],"range":["#2fe62f","#e8799a"]},"legend":{"title":null,"orient":"top-right","offset":4,"labelFontSize":13,"labelColor":"black","symbolSize":40,"rowPadding":2}}}},
    {"data":{"name":"c_pts"},"mark":{"type":"errorbar","ticks":true,"size":4,"thickness":1,"opacity":0.75},"encoding":{"yError":{"field":"ye"},"color":{"field":"s","type":"nominal","scale":{"domain":["2h 200 mV hold","4h 200 mV hold"],"range":["#2fe62f","#e8799a"]},"legend":{"title":null,"orient":"top-right","offset":4,"labelFontSize":13,"labelColor":"black","symbolSize":40,"rowPadding":2}}}},
    {"data":{"name":"c_lines"},"transform":[{"filter":"datum.st == 'orange'"}],"mark":{"type":"line","color":"#e08a3a","strokeDash":[4,3],"strokeWidth":1.2},"encoding":{"detail":{"field":"g"},"order":{"field":"i"}}},
    {"data":{"name":"c_lines"},"transform":[{"filter":"datum.st == 'purple'"}],"mark":{"type":"line","color":"#9a6ad0","strokeDash":[6,3],"strokeWidth":1.2},"encoding":{"detail":{"field":"g"},"order":{"field":"i"}}},
    {"data":{"name":"c_lines"},"transform":[{"filter":"datum.st == 'blue'"}],"mark":{"type":"line","color":"#3344cc","strokeDash":[2,2],"strokeWidth":1.2},"encoding":{"detail":{"field":"g"},"order":{"field":"i"}}},
    {"data":{"name":"c_lines"},"transform":[{"filter":"datum.st == 'navy'"}],"mark":{"type":"line","color":"#1a1a5e","strokeDash":[2,1],"strokeWidth":1.5},"encoding":{"detail":{"field":"g"},"order":{"field":"i"}}},
    {"data":{"name":"c_pts"},"mark":{"type":"point","filled":true,"size":18,"opacity":1},"encoding":{
      "color":{"field":"s","type":"nominal","scale":{"domain":["2h 200 mV hold","4h 200 mV hold"],"range":["#2fe62f","#e8799a"]},"legend":{"title":null,"orient":"top-right","offset":4,"labelFontSize":13,"labelColor":"black","symbolSize":40,"rowPadding":2}},
      "shape":{"field":"s","type":"nominal","scale":{"domain":["2h 200 mV hold","4h 200 mV hold"],"range":["triangle-up","diamond"]},"legend":{"title":null,"orient":"top-right","offset":4,"labelFontSize":13,"labelColor":"black","symbolSize":40,"rowPadding":2}}}},
    {"data":{"name":"c_lines"},"transform":[{"filter":"datum.st == 'blk'"}],"mark":{"type":"line","color":"black","strokeDash":[3,4],"strokeWidth":2.5},"encoding":{"detail":{"field":"g"},"order":{"field":"i"}}}
   ]}]},
 {"title":{"text":"D","anchor":"start","fontSize":22,"offset":-8,"dx":12},
  "resolve":{"scale":{"color":"independent","strokeDash":"independent","shape":"independent"},"legend":{"color":"independent","strokeDash":"independent","shape":"independent"}},
  "vconcat":[{
   "width":260,"height":274,
   "title":{"text":"2-4 h 200 mV hold (Li₇Sn₂)","offset":5},
   "encoding":{
     "x":{"field":"x","type":"quantitative","scale":{"domain":[-3,23],"reverse":true,"nice":false},"axis":{"values":[0,3,6,9,12,15,18,21]},"title":"Depth (μm Li₇Sn₂)"},
     "y":{"field":"y","type":"quantitative","scale":{"domain":[0,1.4e22],"nice":false},"axis":{"values":[0,3e21,6e21,9e21,1.2e22],"labelExpr":"datum.value == 0 ? '0' : upper(format(datum.value, '.2~e'))","titlePadding":2,"labelPadding":1,"titleFontSize":12,"labelFontSize":11},"title":"Li concentration (Li atoms cm⁻³)"}
   },
   "layer":[
    {"data":{"name":"d_pts"},"mark":{"type":"errorbar","ticks":true,"size":4,"thickness":1,"opacity":0.7},"encoding":{"xError":{"field":"xe"},"color":{"field":"s","type":"nominal","scale":{"domain":["2h 200 mV hold","4h 200 mV hold"],"range":["#5ab4dc","#ff6a33"]},"legend":{"title":null,"orient":"top-right","offset":4,"labelFontSize":13,"labelColor":"black","symbolSize":40,"rowPadding":2}}}},
    {"data":{"name":"d_pts"},"mark":{"type":"errorbar","ticks":true,"size":4,"thickness":1,"opacity":0.7},"encoding":{"yError":{"field":"ye"},"color":{"field":"s","type":"nominal","scale":{"domain":["2h 200 mV hold","4h 200 mV hold"],"range":["#5ab4dc","#ff6a33"]},"legend":{"title":null,"orient":"top-right","offset":4,"labelFontSize":13,"labelColor":"black","symbolSize":40,"rowPadding":2}}}},
    {"data":{"name":"d_lines"},"transform":[{"filter":"datum.st == 'red'"}],"mark":{"type":"line","color":"#e0204a","strokeDash":[5,3],"strokeWidth":1.3},"encoding":{"detail":{"field":"g"},"order":{"field":"i"}}},
    {"data":{"name":"d_lines"},"transform":[{"filter":"datum.st == 'green'"}],"mark":{"type":"line","color":"#3a9a5a","strokeDash":[4,3],"strokeWidth":1.2},"encoding":{"detail":{"field":"g"},"order":{"field":"i"}}},
    {"data":{"name":"d_lines"},"transform":[{"filter":"datum.st == 'navy'"}],"mark":{"type":"line","color":"#4a3ab0","strokeDash":[2,2],"strokeWidth":1.5},"encoding":{"detail":{"field":"g"},"order":{"field":"i"}}},
    {"data":{"name":"d_pts"},"mark":{"type":"point","filled":true,"size":25,"opacity":1},"encoding":{
      "color":{"field":"s","type":"nominal","scale":{"domain":["2h 200 mV hold","4h 200 mV hold"],"range":["#5ab4dc","#ff6a33"]},"legend":{"title":null,"orient":"top-right","offset":4,"labelFontSize":13,"labelColor":"black","symbolSize":40,"rowPadding":2}},
      "shape":{"field":"s","type":"nominal","scale":{"domain":["2h 200 mV hold","4h 200 mV hold"],"range":["circle","square"]},"legend":{"title":null,"orient":"top-right","offset":4,"labelFontSize":13,"labelColor":"black","symbolSize":40,"rowPadding":2}}}},
    {"data":{"name":"d_fit"},"mark":{"type":"point","filled":true,"shape":"circle","size":25,"color":"#3b1f6e","opacity":1}}
   ]}]}
],"spacing":45}
],
"config":{
 "font":"Liberation Serif",
 "view":{"stroke":"#999"},
 "axis":{"labelFont":"Liberation Serif","labelFontWeight":"bold","labelFontSize":12,"labelColor":"black","titleFont":"Liberation Serif","titleFontWeight":"bold","titleFontSize":13,"titleColor":"black","domainColor":"black","tickColor":"black","grid":false,"tickSize":5},
 "title":{"font":"Liberation Serif","fontWeight":"bold","fontSize":13,"color":"black"},
 "legend":{"labelFont":"Liberation Serif","labelFontWeight":"bold"}
}
}
